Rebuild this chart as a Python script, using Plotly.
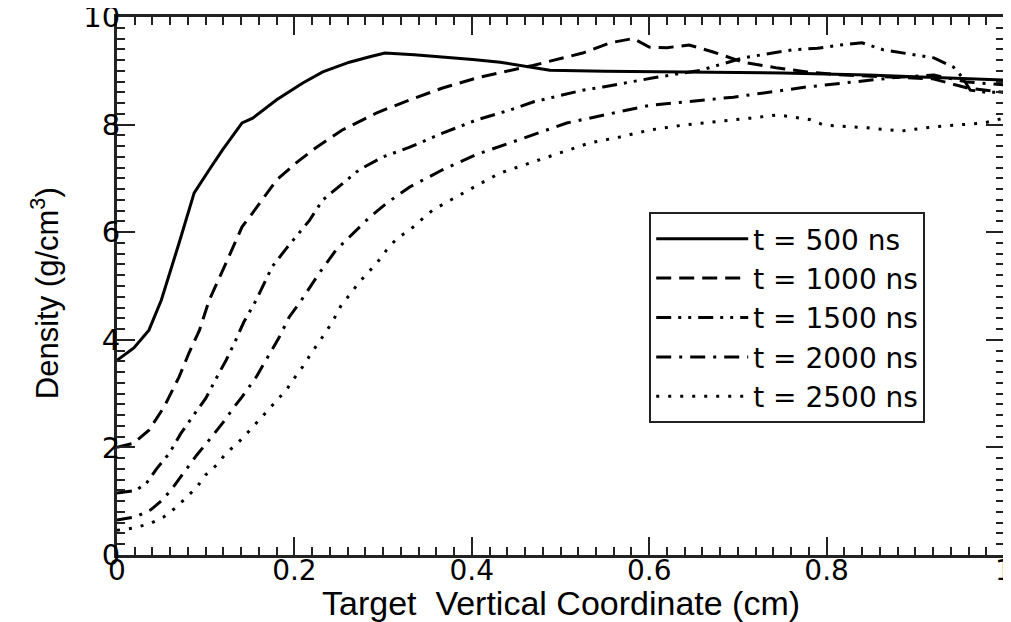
import plotly.graph_objects as go

# ---- data ----
x_500 = [0, 0.019, 0.036, 0.044, 0.05, 0.07, 0.087, 0.104, 0.119, 0.141, 0.153, 0.18, 0.209,
         0.232, 0.262, 0.285, 0.302, 0.335, 0.367, 0.401, 0.432, 0.46, 0.488, 0.55, 0.658,
         0.75, 0.846, 0.92, 1.0]
y_500 = [3.62, 3.85, 4.18, 4.5, 4.74, 5.8, 6.73, 7.16, 7.53, 8.03, 8.12, 8.46, 8.77,
         8.98, 9.16, 9.26, 9.33, 9.3, 9.26, 9.21, 9.16, 9.08, 9.01, 8.99, 8.98,
         8.96, 8.92, 8.88, 8.83]

x_1000 = [0, 0.019, 0.036, 0.053, 0.07, 0.081, 0.093, 0.104, 0.123, 0.141, 0.153, 0.18, 0.202,
          0.225, 0.254, 0.293, 0.33, 0.367, 0.406, 0.443, 0.469, 0.525, 0.556, 0.582, 0.6,
          0.62, 0.645, 0.672, 0.706, 0.745, 0.778, 0.82, 0.87, 0.92, 0.959, 1.0]
y_1000 = [2.0, 2.08, 2.32, 2.75, 3.31, 3.75, 4.18, 4.74, 5.43, 6.1, 6.36, 6.97, 7.29,
          7.58, 7.9, 8.22, 8.46, 8.68, 8.87, 9.01, 9.1, 9.33, 9.52, 9.6, 9.44,
          9.43, 9.48, 9.35, 9.16, 9.05, 8.98, 8.92, 8.88, 8.85, 8.68, 8.6]

x_1500 = [0, 0.021, 0.033, 0.045, 0.059, 0.072, 0.089, 0.1, 0.115, 0.123, 0.134, 0.143, 0.157,
          0.175, 0.191, 0.217, 0.232, 0.254, 0.273, 0.3, 0.33, 0.367, 0.406, 0.443, 0.469,
          0.525, 0.548, 0.605, 0.658, 0.706, 0.725, 0.761, 0.79, 0.816, 0.84, 0.864, 0.921,
          0.943, 0.953, 0.962, 0.98, 1.0]
y_1500 = [1.15, 1.2, 1.33, 1.61, 1.89, 2.26, 2.66, 2.91, 3.38, 3.62, 4.0, 4.33, 4.74,
          5.36, 5.7, 6.22, 6.6, 6.91, 7.16, 7.4, 7.58, 7.84, 8.09, 8.27, 8.42,
          8.64, 8.7, 8.87, 9.01, 9.24, 9.29, 9.39, 9.42, 9.48, 9.52, 9.39, 9.24,
          9.07, 8.88, 8.64, 8.6, 8.6]

x_2000 = [0, 0.021, 0.038, 0.051, 0.061, 0.072, 0.09, 0.104, 0.119, 0.132, 0.141, 0.157, 0.168,
          0.183, 0.194, 0.208, 0.228, 0.247, 0.262, 0.285, 0.304, 0.33, 0.367, 0.406, 0.443,
          0.507, 0.601, 0.695, 0.778, 0.83, 0.88, 0.921, 0.959, 1.0]
y_2000 = [0.65, 0.71, 0.84, 1.02, 1.21, 1.45, 1.86, 2.14, 2.45, 2.75, 2.94, 3.31, 3.62,
          4.05, 4.42, 4.74, 5.24, 5.67, 5.91, 6.28, 6.54, 6.84, 7.16, 7.45, 7.66,
          8.03, 8.36, 8.51, 8.7, 8.79, 8.88, 8.92, 8.79, 8.74]

x_2500 = [0, 0.019, 0.038, 0.053, 0.067, 0.079, 0.09, 0.1, 0.112, 0.123, 0.136, 0.147, 0.158,
          0.169, 0.18, 0.191, 0.2, 0.209, 0.219, 0.228, 0.237, 0.245, 0.253, 0.262, 0.273,
          0.293, 0.304, 0.316, 0.33, 0.343, 0.356, 0.372, 0.386, 0.401, 0.417, 0.432, 0.466,
          0.5, 0.533, 0.567, 0.601, 0.638, 0.677, 0.714, 0.745, 0.763, 0.782, 0.797, 0.846,
          0.884, 0.921, 0.977, 1.0]
y_2500 = [0.46, 0.5, 0.59, 0.71, 0.89, 1.08, 1.26, 1.49, 1.67, 1.89, 2.08, 2.27, 2.47,
          2.66, 2.88, 3.07, 3.29, 3.49, 3.75, 3.96, 4.18, 4.4, 4.65, 4.83, 5.07,
          5.43, 5.67, 5.89, 6.04, 6.23, 6.41, 6.56, 6.69, 6.82, 6.97, 7.1, 7.29,
          7.49, 7.66, 7.77, 7.9, 7.99, 8.05, 8.12, 8.18, 8.14, 8.09, 7.99, 7.94,
          7.88, 7.96, 8.03, 8.12]

labels = ["t = 500 ns", "t = 1000 ns", "t = 1500 ns", "t = 2000 ns", "t = 2500 ns"]
x_title = "Target  Vertical Coordinate (cm)"
y_title = "Density (g/cm<sup>3</sup>)"

series = [(x_500, y_500), (x_1000, y_1000), (x_1500, y_1500), (x_2000, y_2000), (x_2500, y_2500)]
dashes = ["solid", "15px,8px", "15px,7px,3px,7px,3px,7px", "15px,8px,3px,8px", "3px,9px"]

fig = go.Figure()
for (xs, ys), lab, d in zip(series, labels, dashes):
    fig.add_trace(go.Scatter(x=xs, y=ys, mode="lines", name=lab,
                             line=dict(color="black", width=3, dash=d)))

title_font = "Liberation Sans, Arial, sans-serif"
common = dict(showline=True, linewidth=3, linecolor="#222", showgrid=False, zeroline=False,
              ticks="inside", ticklen=18, tickwidth=2, tickcolor="#222", mirror="ticks")
mn = dict(ticks="inside", ticklen=8, tickwidth=2, tickcolor="#222")

fig.update_xaxes(range=[0, 1], dtick=0.2, minor=dict(dtick=0.02, **mn),
                 tickfont=dict(family="DejaVu Sans", size=28, color="black"),
                 automargin=False, ticklabeloverflow="allow", ticklabelstandoff=-12, **common)
fig.update_yaxes(range=[0, 10], dtick=2, minor=dict(dtick=0.2, **mn),
                 tickfont=dict(family="DejaVu Sans", size=29, color="black"),
                 automargin=False, ticklabeloverflow="allow", ticklabelstandoff=-12, **common)

# the page body has an 8px default margin; the figure is sized/offset to compensate
fig.update_layout(
    width=1003, height=614,
    margin=dict(l=109, r=7, t=9, b=67),
    paper_bgcolor="white", plot_bgcolor="white",
    showlegend=True,
    legend=dict(x=0.6, y=0.6375, xanchor="left", yanchor="top",
                bgcolor="white", bordercolor="#222", borderwidth=2,
                font=dict(family="DejaVu Sans", size=28, color="black"),
                itemwidth=92),
)

fig.add_annotation(text=x_title, xref="paper", yref="paper", x=0.5, y=-0.089,
                   xanchor="center", yanchor="middle", showarrow=False,
                   font=dict(family=title_font, size=34, color="black"))
fig.add_annotation(text=y_title, xref="paper", yref="paper", x=-0.081, y=0.487,
                   xanchor="center", yanchor="middle", showarrow=False, textangle=-90,
                   font=dict(family=title_font, size=31, color="black"))

fig.write_html("out.html")
